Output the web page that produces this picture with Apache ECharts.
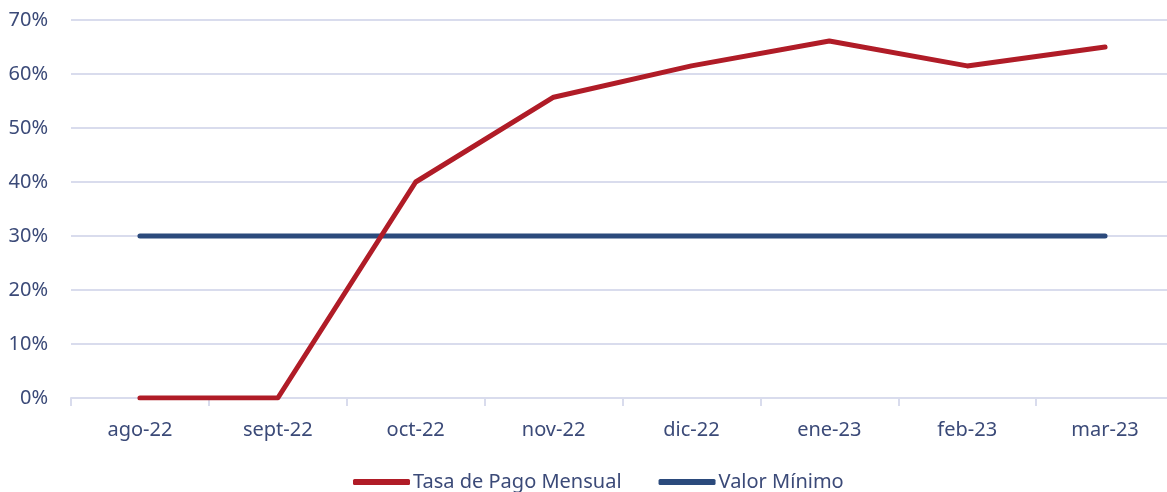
<!DOCTYPE html>
<html lang="es">
<head>
    <meta charset="UTF-8">
    <title>Tasa de Pago Mensual</title>
    <style>
        html, body {
            margin: 0;
            padding: 0;
            background: white;
        }

        #chart {
            width: 1167px;
            height: 492px;
        }
    </style>
    <script src="https://cdn.jsdelivr.net/npm/echarts@6/dist/echarts.min.js"></script>
</head>
<body>
    <div id="chart"></div>
    <script>
        // datos
        const meses = ['ago-22', 'sept-22', 'oct-22', 'nov-22', 'dic-22', 'ene-23', 'feb-23', 'mar-23'];
        const tasaPago = [0, 0, 40.0, 55.7, 61.5, 66.1, 61.5, 65.0];
        const valorMinimo = [30, 30, 30, 30, 30, 30, 30, 30];

        const colorTexto = '#3b4a78';
        const fuente = '"Noto Sans", "Open Sans", sans-serif';

        let fig = echarts.init(document.getElementById('chart'), null, {renderer: 'canvas'});

        let option = {
            animation: false,
            textStyle: {fontFamily: fuente},
            grid: {
                left: 71,
                top: 20,
                width: 1103,
                bottom: 94,
                containLabel: false,
                outerBoundsMode: 'none'
            },
            legend: {
                bottom: 0,
                left: 353,
                padding: 0,
                itemWidth: 57,
                itemHeight: 6,
                itemGap: 37,
                icon: 'roundRect',
                textStyle: {color: colorTexto, fontSize: 20, fontFamily: fuente, padding: [0, 0, 0, -2]},
                data: ['Tasa de Pago Mensual', 'Valor Mínimo']
            },
            xAxis: {
                type: 'category',
                data: meses,
                boundaryGap: true,
                axisLine: {lineStyle: {color: '#d9dced', width: 2}},
                axisTick: {show: true, length: 8, lineStyle: {color: '#d9dced', width: 2}},
                axisLabel: {color: colorTexto, fontSize: 20, margin: 22, fontFamily: fuente}
            },
            yAxis: {
                type: 'value',
                min: 0,
                max: 70,
                interval: 10,
                axisLine: {show: false},
                axisTick: {show: false},
                splitLine: {lineStyle: {color: '#d9dced', width: 2}},
                axisLabel: {
                    color: colorTexto, fontSize: 20, margin: 23, fontFamily: fuente,
                    formatter: '{value}%'
                }
            },
            series: [
                {
                    name: 'Tasa de Pago Mensual',
                    type: 'line',
                    data: tasaPago,
                    symbol: 'none',
                    color: '#b01c27',
                    lineStyle: {width: 5, cap: 'round', join: 'round'},
                    z: 3
                },
                {
                    name: 'Valor Mínimo',
                    type: 'line',
                    data: valorMinimo,
                    symbol: 'none',
                    color: '#2b4a7c',
                    lineStyle: {width: 5, cap: 'round'},
                    z: 2
                }
            ]
        };
        fig.setOption(option);
    </script>
</body>
</html>
